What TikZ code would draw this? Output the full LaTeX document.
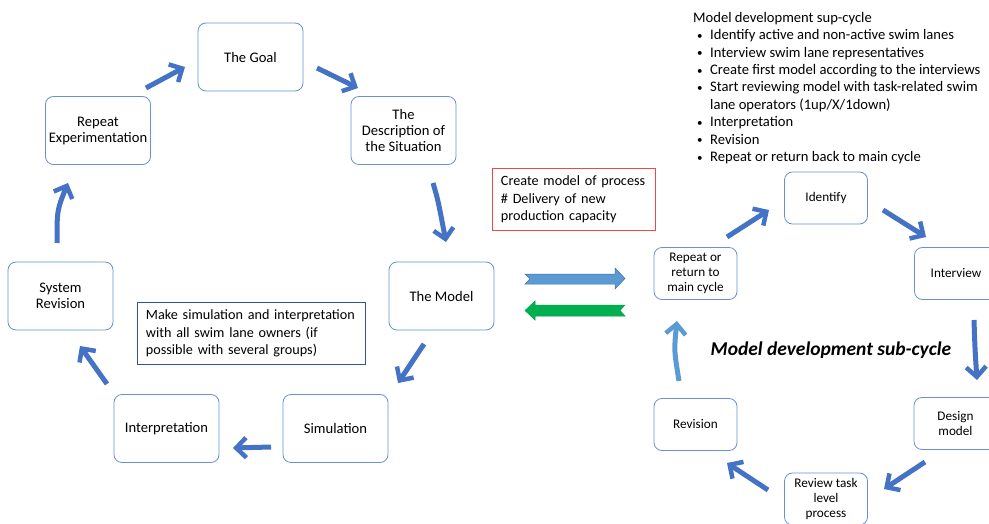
\documentclass[tikz,border=0pt]{standalone}
\usepackage{fontspec}
\setmainfont{Carlito}
\usetikzlibrary{arrows.meta}
\definecolor{arrowblue}{HTML}{4472C4}
\definecolor{lightarrow}{HTML}{5B9BD5}
\definecolor{boxline}{HTML}{6A8FD6}
\definecolor{notebox}{HTML}{2F5597}
\definecolor{redline}{HTML}{F04848}
\definecolor{fwdfill}{HTML}{5B9BD5}
\definecolor{fwdline}{HTML}{41719C}
\definecolor{backfill}{HTML}{00B050}
\definecolor{backline}{HTML}{00A04A}
\newcommand\bitem[1]{\makebox[17pt][l]{\hspace{4pt}\raisebox{0.5pt}{\scalebox{0.75}{•}}}#1}
\begin{document}
\begin{tikzpicture}[x=1pt,y=-1pt,
  stage/.style={draw=boxline, line width=0.8pt, rounded corners=8pt, align=center,
    minimum width=105pt, minimum height=68pt, inner sep=2pt,
    font=\fontsize{14.6}{16}\selectfont},
  substage/.style={stage, minimum width=83pt, minimum height=52pt,
    font=\fontsize{13.2}{14.7}\selectfont},
  callout/.style={line width=0.9pt, align=left, anchor=north west, inner xsep=8.5pt,
    font=\fontsize{14.2}{17.6}\selectfont},
  flow/.style={draw=arrowblue, line width=5pt,
    -{Straight Barb[length=10pt,width=20pt,line width=4.5pt]}},
  lightflow/.style={flow, draw=lightarrow},
]
\clip (0,0) rectangle (989,524);

% main cycle
\node[stage] (goal)   at (250.5,57)  {The Goal};
\node[stage] (repexp) at (98,130.5)  {Repeat\\Experimentation};
\node[stage] (desc)   at (403.5,130.5) {The\\Description of\\the Situation};
\node[stage] (model)  at (441.5,296) {The Model};
\node[stage] (sysrev) at (60.5,296)  {System\\Revision};
\node[stage] (interp) at (166.5,428.5) {Interpretation};
\node[stage] (sim)    at (335.5,428.5) {Simulation};

\node[callout, draw=notebox, text width=211pt, minimum height=62pt] (note) at (137,302)
  {Make simulation and interpretation\\with all swim lane owners (if\\possible with several groups)};
\node[callout, draw=redline, text width=146pt, minimum height=62pt] (capnote) at (492,168)
  {Create model of process\\\# Delivery of new\\production capacity};

% sub-cycle
\node[substage] (ident)   at (826,198)   {Identify};
\node[substage] (retmain) at (695.5,273.5) {Repeat or\\return to\\main cycle};
\node[substage] (interv)  at (956,273.5) {Interview};
\node[substage] (design)  at (955.5,423.5) {Design\\model};
\node[substage] (revis)   at (695.5,424.5) {Revision};
\node[substage] (review)  at (826,499)   {Review task\\level\\process};

\node[font=\fontsize{19.5}{22}\selectfont\bfseries\itshape] (subtitle) at (831,350)
  {Model development sub-cycle};

\node[anchor=north west, align=left, inner sep=0pt,
  font=\fontsize{14.6}{17.4}\selectfont] (list) at (693,12)
  {Model development sup-cycle\\
   \bitem{Identify active and non-active swim lanes}\\
   \bitem{Interview swim lane representatives}\\
   \bitem{Create first model according to the interviews}\\
   \bitem{Start reviewing model with task-related swim}\\
   \hspace*{17pt}lane operators (1up/X/1down)\\
   \bitem{Interpretation}\\
   \bitem{Revision}\\
   \bitem{Repeat or return back to main cycle}};

% arrow end points, main cycle
\coordinate (a1s) at (146,88);  \coordinate (a1e) at (185,67);
\coordinate (a2s) at (317,68);  \coordinate (a2e) at (358,88);
\coordinate (a3s) at (433,183); \coordinate (a3e) at (446,242);
\coordinate (a4s) at (424,344); \coordinate (a4e) at (398,383);
\coordinate (a5s) at (271,447); \coordinate (a5e) at (233,448);
\coordinate (a6s) at (107,384); \coordinate (a6e) at (80,346);
\coordinate (a7s) at (57,243);  \coordinate (a7e) at (68,183);
% arrow end points, sub-cycle
\coordinate (b1s) at (727,237); \coordinate (b1e) at (769,210);
\coordinate (b2s) at (883,210); \coordinate (b2e) at (926,237);
\coordinate (b3s) at (974,320); \coordinate (b3e) at (977,380);
\coordinate (b4s) at (925,462); \coordinate (b4e) at (884,489);
\coordinate (b5s) at (768,490); \coordinate (b5e) at (727,463);
\coordinate (b6s) at (679,381); \coordinate (b6e) at (677,321);

\draw[flow] (a1s) -- (a1e);
\draw[flow] (a2s) -- (a2e);
\draw[flow] (a3s) .. controls (438,200) .. (a3e);
\draw[flow] (a4s) -- (a4e);
\draw[flow] (a5s) -- (a5e);
\draw[flow] (a6s) -- (a6e);
\draw[flow] (a7s) .. controls (57,210) .. (a7e);

\draw[flow] (b1s) -- (b1e);
\draw[flow] (b2s) -- (b2e);
\draw[flow] (b3s) .. controls (975,350) .. (b3e);
\draw[flow] (b4s) -- (b4e);
\draw[flow] (b5s) -- (b5e);
\draw[lightflow] (b6s) .. controls (674,350) .. (b6e);

% block arrows between the two cycles
\filldraw[fill=fwdfill, draw=fwdline, line width=0.5pt]
  (525,274) -- (615,274) -- (615,268) -- (625,278.5) -- (615,289) -- (615,284)
  -- (525,284) -- (530,279) -- cycle;
\filldraw[fill=backfill, draw=backline, line width=0.5pt]
  (525,310.5) -- (535,301) -- (535,305) -- (625,305) -- (620,310.5) -- (625,316)
  -- (535,316) -- (535,320) -- cycle;
\end{tikzpicture}
\end{document}
